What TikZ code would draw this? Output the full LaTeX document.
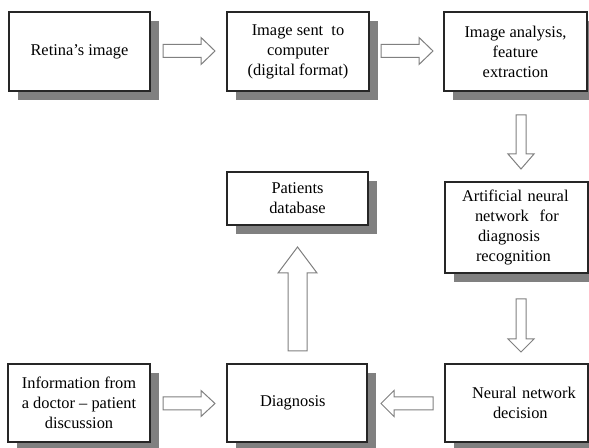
\documentclass[tikz,border=0pt]{standalone}
\usepackage{fontspec}
\setmainfont{Liberation Serif}
\usetikzlibrary{shadows}
\begin{document}
\begin{tikzpicture}[x=0.75pt,y=-0.75pt,
  box/.style={draw=black!85,line width=0.8pt,fill=white,align=center,
    font=\fontsize{12.3}{15}\selectfont,inner sep=2pt,
    drop shadow={shadow xshift=6.75pt,shadow yshift=-6.75pt,fill=black!50,opacity=1}},
  lbox/.style={box,align=left,inner xsep=0pt,text width=#1*0.75pt,minimum width=#1*0.75pt},
  barrow/.style={draw=black!50,line width=0.75pt,fill=white,line join=miter}]
\useasboundingbox (0,0) rectangle (589,448);
\fill[white] (0,0) rectangle (589,448);
% boxes
\node[box,minimum width=141*0.75pt,minimum height=79*0.75pt] (b1) at (79.5,51.5) {Retina's image};
\node[box,minimum width=142*0.75pt,minimum height=79*0.75pt] (b2) at (298,51.5) {Image sent\ \ to\\computer\\(digital format)};
\node[box,minimum width=143*0.75pt,minimum height=79*0.75pt] (b3) at (515.5,51.5) {Image analysis,\\feature\\extraction};
\node[lbox=143,minimum height=91*0.75pt] (b4) at (516.5,227.5) {\hspace*{12.75pt}Artificial neural\\\hspace*{22.5pt}network\ \ for\\\hspace*{24.75pt}diagnosis\\\hspace*{23.25pt}recognition};
\node[box,minimum width=141*0.75pt,minimum height=53*0.75pt] (b5) at (297.5,198.5) {Patients\\database};
\node[box,minimum width=142*0.75pt,minimum height=78*0.75pt] (b6) at (79,403) {Information from\\a doctor -- patient\\discussion};
\node[lbox=140,minimum height=78*0.75pt] (b7) at (297,403) {\hspace*{24.75pt}Diagnosis};
\node[lbox=143,minimum height=78*0.75pt] (b8) at (516.5,403) {\hspace*{20.25pt}Neural network\\\hspace*{36pt}decision};
% block arrows
\draw[barrow] (163,44.5) -- (201,44.5) -- (201,37.5) -- (215,51) -- (201,64.5) -- (201,57.5) -- (163,57.5) -- cycle;
\draw[barrow] (381,44.5) -- (419,44.5) -- (419,37.5) -- (433,51) -- (419,64.5) -- (419,57.5) -- (381,57.5) -- cycle;
\draw[barrow] (516,115) -- (516,154) -- (508,154) -- (521,169) -- (534,154) -- (526,154) -- (526,115) -- cycle;
\draw[barrow] (516,299) -- (516,339) -- (508,339) -- (521,352) -- (534,339) -- (526,339) -- (526,299) -- cycle;
\draw[barrow] (288,351) -- (288,273) -- (278,273) -- (297.5,247) -- (317,273) -- (307,273) -- (307,351) -- cycle;
\draw[barrow] (163,397) -- (201,397) -- (201,390.5) -- (215,403.5) -- (201,416.5) -- (201,410) -- (163,410) -- cycle;
\draw[barrow] (433,397) -- (394,397) -- (394,390.5) -- (381,403.5) -- (394,416.5) -- (394,410) -- (433,410) -- cycle;
\end{tikzpicture}
\end{document}
